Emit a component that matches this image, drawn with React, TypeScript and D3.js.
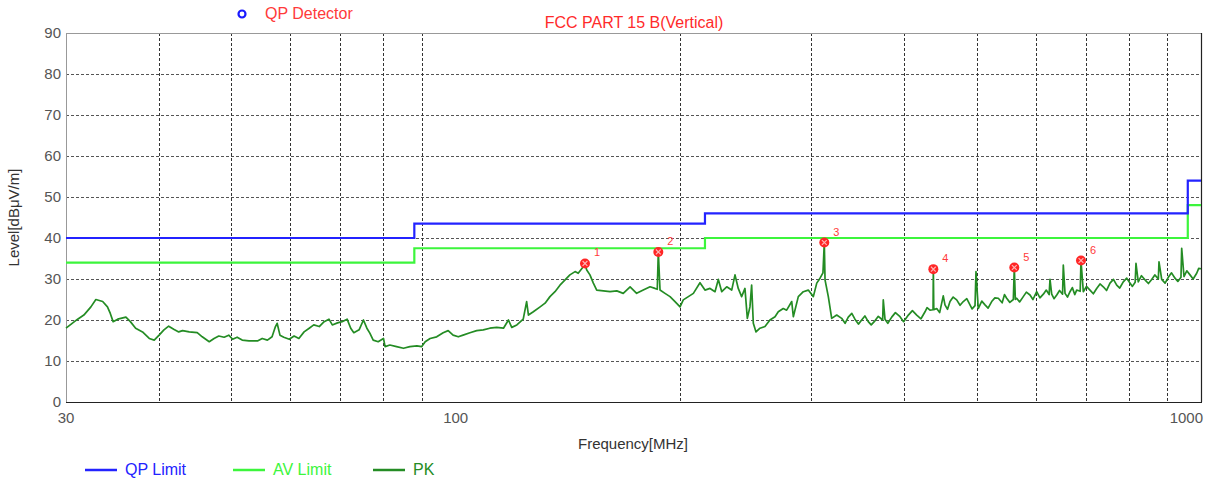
import React, { useEffect, useRef } from 'react';
import * as d3 from 'd3';

// limit lines (step after each edge)
const limitFreq = [30, 88, 216, 960, 1000];
const qpLimit = [40, 43.5, 46, 54, 54];
const avLimit = [34, 37.5, 40, 48, 48];

// PK trace
const pkFreq = [
  30.0, 31.1, 31.7, 32.4, 32.9, 33.6, 34.1, 34.4, 34.7, 35.2, 36.1, 36.6, 37.2, 38.0, 38.8, 39.4,
  40.0, 40.6, 41.2, 41.9, 42.5, 43.0, 43.9, 45.0, 45.7, 46.7, 47.4, 48.1, 48.9, 49.6, 50.2, 50.9,
  51.7, 52.8, 54.2, 55.0, 55.9, 56.7, 57.3, 57.6, 58.1, 58.8, 59.8, 60.7, 61.6, 62.6, 63.6, 64.5,
  65.6, 66.6, 67.6, 68.3, 69.4, 70.4, 71.5, 72.3, 73.0, 74.2, 75.2, 76.0, 76.7, 77.5, 78.7, 80.0,
  80.4, 81.6, 83.3, 85.1, 86.8, 88.7, 90.0, 91.0, 92.4, 94.3, 96.2, 97.7, 99.2, 100.8, 102.3, 104.5,
  106.7, 108.9, 111.1, 113.5, 115.9, 117.7, 118.9, 120.8, 123.2, 124.5, 125.2, 127.1, 129.8, 131.8, 133.8, 135.9,
  138.0, 140.2, 142.3, 144.6, 146.0, 148.3, 149.1, 149.9, 151.4, 153.0, 154.6, 157.8, 161.1, 164.5, 167.8, 171.4,
  174.9, 178.5, 182.3, 185.1, 186.4, 187.0, 188.0, 190.9, 193.9, 196.9, 200.0, 202.0, 205.2, 208.4, 212.7, 216.0,
  219.4, 222.8, 225.1, 227.5, 231.0, 234.6, 237.0, 239.4, 241.9, 244.4, 246.2, 248.2, 249.5, 250.8, 252.9, 256.0,
  260.0, 264.0, 268.2, 270.9, 275.1, 278.0, 282.4, 283.8, 288.2, 292.7, 297.2, 301.9, 305.1, 308.2, 311.0, 312.3,
  313.0, 316.2, 319.5, 324.5, 329.5, 333, 336.3, 340, 343.3, 347, 350.5, 354, 357.7, 361, 365.2, 369,
  374.0, 374.7, 376.7, 380, 384.6, 389, 394.6, 399, 404.9, 410, 415.5, 421, 426.3, 429, 432.9, 437.0,
  437.4, 438.0, 442.0, 446, 451.0, 453.4, 457, 460.5, 465, 470.1, 475, 479.8, 485, 489.8, 493, 497.5,
  499.0, 502.5, 508, 513.1, 518, 523.8, 529, 534.6, 541, 545, 548.6, 554, 560.0, 561.7, 563.5, 565.8,
  571, 577.5, 583, 589.6, 595, 601.9, 608, 614.4, 620, 625.5, 627.2, 630.5, 635, 640.4, 646, 652.0,
  653.5, 657.0, 662, 667.2, 672, 677, 681.1, 688.5, 690.2, 695.2, 702, 709.7, 717, 724.5, 732, 739.4,
  747, 754.9, 763, 770.7, 778, 786.5, 795, 803.0, 809, 816.0, 818.0, 823.8, 832, 841.1, 850, 858.7,
  867, 876.5, 878.3, 885.7, 895, 903.9, 913, 922.8, 931, 940.0, 942.1, 948.8, 957, 966.6, 976, 986.8,
  993, 1000,
];
const pkLevel = [
  18.0, 20.2, 21.2, 23.2, 25.0, 24.5, 23.2, 21.6, 19.6, 20.2, 20.7, 19.6, 18.0, 17.1, 15.5, 15.1,
  16.3, 17.6, 18.5, 17.7, 17.1, 17.4, 17.1, 16.9, 15.9, 14.7, 15.5, 16.1, 15.8, 16.3, 15.3, 15.8,
  15.1, 14.9, 14.9, 15.5, 15.1, 15.9, 18.4, 19.2, 16.3, 15.8, 15.3, 16.1, 15.5, 17.1, 18.0, 18.8,
  18.4, 19.6, 20.2, 18.8, 19.3, 19.6, 20.2, 18.0, 16.9, 17.6, 20.0, 18.0, 16.8, 15.1, 14.7, 15.5,
  13.5, 13.9, 13.5, 13.1, 13.5, 13.7, 13.5, 14.7, 15.5, 15.9, 16.9, 17.4, 16.3, 15.9, 16.3, 16.9,
  17.4, 17.6, 18.0, 18.2, 18.0, 20.0, 18.2, 18.8, 20.2, 24.5, 21.2, 22.0, 23.2, 24.1, 25.7, 26.9,
  28.5, 29.8, 31.0, 31.8, 31.4, 33.0, 33.6, 32.2, 31.0, 29.0, 27.3, 27.1, 26.9, 27.1, 26.5, 28.1,
  26.5, 27.3, 28.1, 27.7, 27.5, 36.6, 27.3, 26.5, 25.7, 24.5, 23.2, 24.9, 25.7, 26.5, 29.1, 27.3,
  27.7, 26.9, 29.9, 26.9, 28.1, 27.3, 31.0, 27.7, 25.7, 27.7, 20.4, 23.2, 28.5, 19.2, 17.1, 18.0,
  18.4, 20.0, 20.8, 22.0, 22.8, 22.4, 24.5, 20.8, 25.7, 26.9, 27.3, 25.7, 29.0, 30.2, 31.5, 38.9,
  29.8, 25.7, 20.4, 21.2, 20.4, 19.2, 20.7, 21.6, 20.2, 19.0, 20.0, 21.0, 19.6, 18.8, 19.8, 20.9,
  20.0, 24.9, 20.2, 19.2, 20.7, 21.8, 20.8, 19.6, 21.2, 22.3, 21.2, 20.3, 22.0, 23.0, 22.4, 22.5,
  32.4, 22.5, 22.8, 21.8, 25.9, 23.7, 22.6, 24.5, 25.6, 24.9, 23.6, 24.5, 25.2, 23.7, 22.7, 23.5,
  31.8, 22.8, 24.6, 23.7, 22.9, 24.5, 25.4, 25.3, 24.2, 26.2, 25.3, 24.3, 25.0, 32.8, 25.0, 25.3,
  24.4, 25.7, 26.8, 26.1, 25.0, 26.9, 25.4, 26.3, 27.3, 26.2, 29.9, 26.3, 25.2, 26.1, 27.2, 26.3,
  33.4, 26.5, 25.6, 26.9, 27.9, 26.2, 27.3, 27.0, 34.5, 26.9, 28.2, 27.3, 26.4, 27.7, 28.8, 28.1,
  27.2, 29.0, 29.9, 28.5, 27.8, 29.3, 30.2, 29.0, 28.2, 29.2, 33.8, 29.3, 30.8, 29.8, 28.9, 29.9,
  31.0, 30.0, 34.2, 29.9, 29.0, 30.4, 31.5, 30.2, 29.4, 30.4, 37.5, 30.6, 32.0, 31.0, 30.0, 31.4,
  32.6, 32.5,
];

// QP detector markers
const markerNo = [1, 2, 3, 4, 5, 6];
const markerFreq = [149.1, 187.0, 312.3, 437.4, 561.7, 690.2];
const markerLevel = [33.8, 36.6, 38.9, 32.4, 32.8, 34.5];

const yTicks = [0, 10, 20, 30, 40, 50, 60, 70, 80, 90];
const xTickLabels = [30, 100, 1000];
const xGrid = [40, 50, 60, 70, 80, 90, 200, 300, 400, 500, 600, 700, 800, 900];

const legendNames = ['QP Limit', 'AV Limit', 'PK'];
const legendColors = ['#2323ff', '#3cf53c', '#248c24'];

const FONT = '"Liberation Sans", Arial, sans-serif';

export default function App() {
  const ref = useRef<SVGSVGElement>(null);

  useEffect(() => {
    if (!ref.current) return;
    const svg = d3.select(ref.current);
    svg.selectAll('*').remove();

    const width = 1230;
    const height = 483;
    const margin = { top: 33, right: 29, bottom: 81, left: 66 };
    const innerW = width - margin.left - margin.right;
    const innerH = height - margin.top - margin.bottom;

    const x = d3.scaleLog().domain([30, 1000]).range([0, innerW]);
    const y = d3.scaleLinear().domain([0, 90]).range([innerH, 0]);
    const crisp = (v: number) => Math.round(v) + 0.5;

    const g = svg.append('g').attr('transform', `translate(${margin.left},${margin.top})`);

    // grid
    g.selectAll('.hgrid')
      .data(yTicks.filter(d => d > 0 && d < 90))
      .join('line')
      .attr('x1', 0).attr('x2', innerW)
      .attr('y1', d => crisp(y(d))).attr('y2', d => crisp(y(d)))
      .attr('stroke', '#555')
      .attr('stroke-dasharray', '3 2');

    g.selectAll('.vgrid')
      .data(xGrid)
      .join('line')
      .attr('x1', d => crisp(x(d))).attr('x2', d => crisp(x(d)))
      .attr('y1', 0).attr('y2', innerH)
      .attr('stroke', '#333')
      .attr('stroke-dasharray', '3 2');

    // frame
    g.append('line').attr('x1', 0.5).attr('x2', 0.5).attr('y1', 0).attr('y2', innerH)
      .attr('stroke', '#999');
    g.append('line').attr('x1', 0).attr('x2', innerW).attr('y1', 0.5).attr('y2', 0.5)
      .attr('stroke', '#999');
    g.append('line').attr('x1', 0).attr('x2', innerW + 1).attr('y1', innerH + 0.5).attr('y2', innerH + 0.5)
      .attr('stroke', '#222').attr('stroke-width', 1.2);
    g.append('line').attr('x1', innerW + 0.5).attr('x2', innerW + 0.5).attr('y1', 0).attr('y2', innerH)
      .attr('stroke', '#222').attr('stroke-width', 1.2);

    // tick labels
    g.selectAll('.ylab')
      .data(yTicks)
      .join('text')
      .attr('x', -5)
      .attr('y', d => y(d))
      .attr('dy', '0.36em')
      .attr('text-anchor', 'end')
      .style('font-family', FONT)
      .style('font-size', '15px')
      .attr('fill', '#555')
      .text(d => d);

    g.selectAll('.xlab')
      .data(xTickLabels)
      .join('text')
      .attr('x', d => (d === 1000 ? x(d) + 2 : x(d)))
      .attr('y', innerH + 21)
      .attr('text-anchor', d => (d === 1000 ? 'end' : 'middle'))
      .style('font-family', FONT)
      .style('font-size', '15px')
      .attr('fill', '#555')
      .text(d => d);

    // axis titles
    svg.append('text')
      .attr('x', 633).attr('y', 449)
      .attr('text-anchor', 'middle')
      .style('font-family', FONT)
      .style('font-size', '15px')
      .attr('fill', '#333')
      .text('Frequency[MHz]');

    svg.append('text')
      .attr('transform', `translate(19,${margin.top + innerH / 2}) rotate(-90)`)
      .attr('text-anchor', 'middle')
      .style('font-family', FONT)
      .style('font-size', '15px')
      .attr('fill', '#333')
      .text('Level[dBμV/m]');

    // title + detector legend
    svg.append('text')
      .attr('x', 634).attr('y', 28)
      .attr('text-anchor', 'middle')
      .style('font-family', FONT)
      .style('font-size', '16px')
      .attr('fill', '#ff2a2a')
      .text('FCC PART 15 B(Vertical)');

    svg.append('circle')
      .attr('cx', 242).attr('cy', 14).attr('r', 3.5)
      .attr('fill', 'none').attr('stroke', '#1a1aff').attr('stroke-width', 2.2);
    svg.append('text')
      .attr('x', 265).attr('y', 19)
      .style('font-family', FONT)
      .style('font-size', '16px')
      .attr('fill', '#ff3a3a')
      .text('QP Detector');

    // limits
    const step = d3.line<number>()
      .x((d, i) => x(limitFreq[i]))
      .y(d => y(d))
      .curve(d3.curveStepAfter);

    g.append('path').datum(avLimit)
      .attr('fill', 'none').attr('stroke', legendColors[1]).attr('stroke-width', 2.2)
      .attr('d', step);
    g.append('path').datum(qpLimit)
      .attr('fill', 'none').attr('stroke', legendColors[0]).attr('stroke-width', 2.2)
      .attr('d', step);

    // PK trace
    const trace = d3.line<number>()
      .x((d, i) => x(pkFreq[i]))
      .y(d => y(d));

    g.append('path').datum(pkLevel)
      .attr('fill', 'none')
      .attr('stroke', legendColors[2])
      .attr('stroke-width', 1.7)
      .attr('stroke-linejoin', 'round')
      .attr('d', trace);

    // markers
    const mk = g.selectAll('.mk')
      .data(markerNo)
      .join('g')
      .attr('transform', (d, i) => `translate(${x(markerFreq[i])},${y(markerLevel[i])})`);

    mk.append('circle').attr('r', 5).attr('fill', '#ff2626');
    mk.append('path')
      .attr('d', 'M-2.4,-2.4L2.4,2.4M-2.4,2.4L2.4,-2.4')
      .attr('stroke', '#ffb4b4').attr('stroke-width', 1.2);
    mk.append('text')
      .attr('x', 9).attr('y', -7)
      .style('font-family', FONT)
      .style('font-size', '11px')
      .attr('fill', '#ff3a3a')
      .text(d => d);

    // bottom legend
    const legX = [85, 233, 373];
    const leg = svg.selectAll('.leg')
      .data(legendNames)
      .join('g')
      .attr('transform', (d, i) => `translate(${legX[i]},470)`);

    leg.append('line')
      .attr('x1', 0).attr('x2', 32).attr('y1', 0).attr('y2', 0)
      .attr('stroke', (d, i) => legendColors[i]).attr('stroke-width', 2.5);
    leg.append('text')
      .attr('x', 40).attr('y', 5)
      .style('font-family', FONT)
      .style('font-size', '16px')
      .attr('fill', (d, i) => legendColors[i])
      .text(d => d);
  }, []);

  return (
    <svg
      ref={ref}
      width={1230}
      height={483}
      style={{ position: 'absolute', left: 0, top: 0, background: '#fff' }}
    />
  );
}
